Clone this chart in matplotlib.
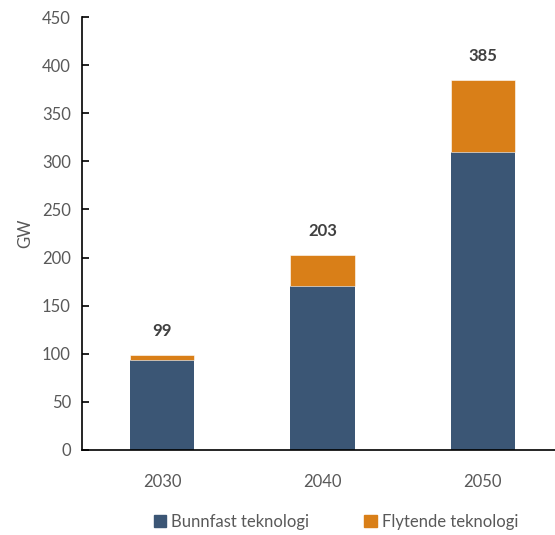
import matplotlib.pyplot as plt
from matplotlib.patches import Patch

years = ["2030", "2040", "2050"]
bunnfast = [94, 170, 310]
flytende = [5, 33, 75]
totals = [99, 203, 385]

BLUE = "#3B5675"
ORANGE = "#D97F18"
TEXT = "#595959"

plt.rcParams["font.family"] = ["Lato", "DejaVu Sans"]

fig = plt.figure(figsize=(5.55, 5.35), dpi=100)
ax = fig.add_axes([0.1477, 0.1589, 0.8667, 0.8093])

x = range(len(years))
ax.bar(x, bunnfast, width=0.4, color=BLUE, label="Bunnfast teknologi")
ax.bar(x, flytende, width=0.4, bottom=bunnfast, color=ORANGE,
       label="Flytende teknologi", edgecolor="white", linewidth=0.4)

for i, t in enumerate(totals):
    ax.annotate(str(t), (i, t), xytext=(0, 11), textcoords="offset points",
                ha="center", va="bottom", fontsize=12, fontweight="bold",
                color="#404040")

ax.set_xlim(-0.5, 2.5)
ax.set_ylim(0, 450)
ax.set_yticks(range(0, 451, 50))
ax.set_xticks(list(x))
ax.set_xticklabels(years)
ax.tick_params(axis="y", direction="in", length=5, width=1.2, colors="black",
               labelcolor=TEXT, labelsize=12, pad=8)
ax.tick_params(axis="x", length=0, labelcolor=TEXT, labelsize=12, pad=17)
ax.set_ylabel("GW", color=TEXT, fontsize=12, labelpad=6)

ax.spines["top"].set_visible(False)
ax.spines["right"].set_visible(False)
ax.spines["left"].set_linewidth(1.2)
ax.spines["bottom"].set_linewidth(1.2)

handles = [Patch(color=BLUE, label="Bunnfast teknologi"),
           Patch(color=ORANGE, label="Flytende teknologi")]
fig.legend(handles=handles, loc="lower center", bbox_to_anchor=(0.605, -0.018),
           ncol=2, frameon=False, fontsize=12, labelcolor=TEXT,
           handlelength=0.75, handleheight=0.75, handletextpad=0.3,
           columnspacing=3.3)

fig.savefig("out.png", dpi=100)
